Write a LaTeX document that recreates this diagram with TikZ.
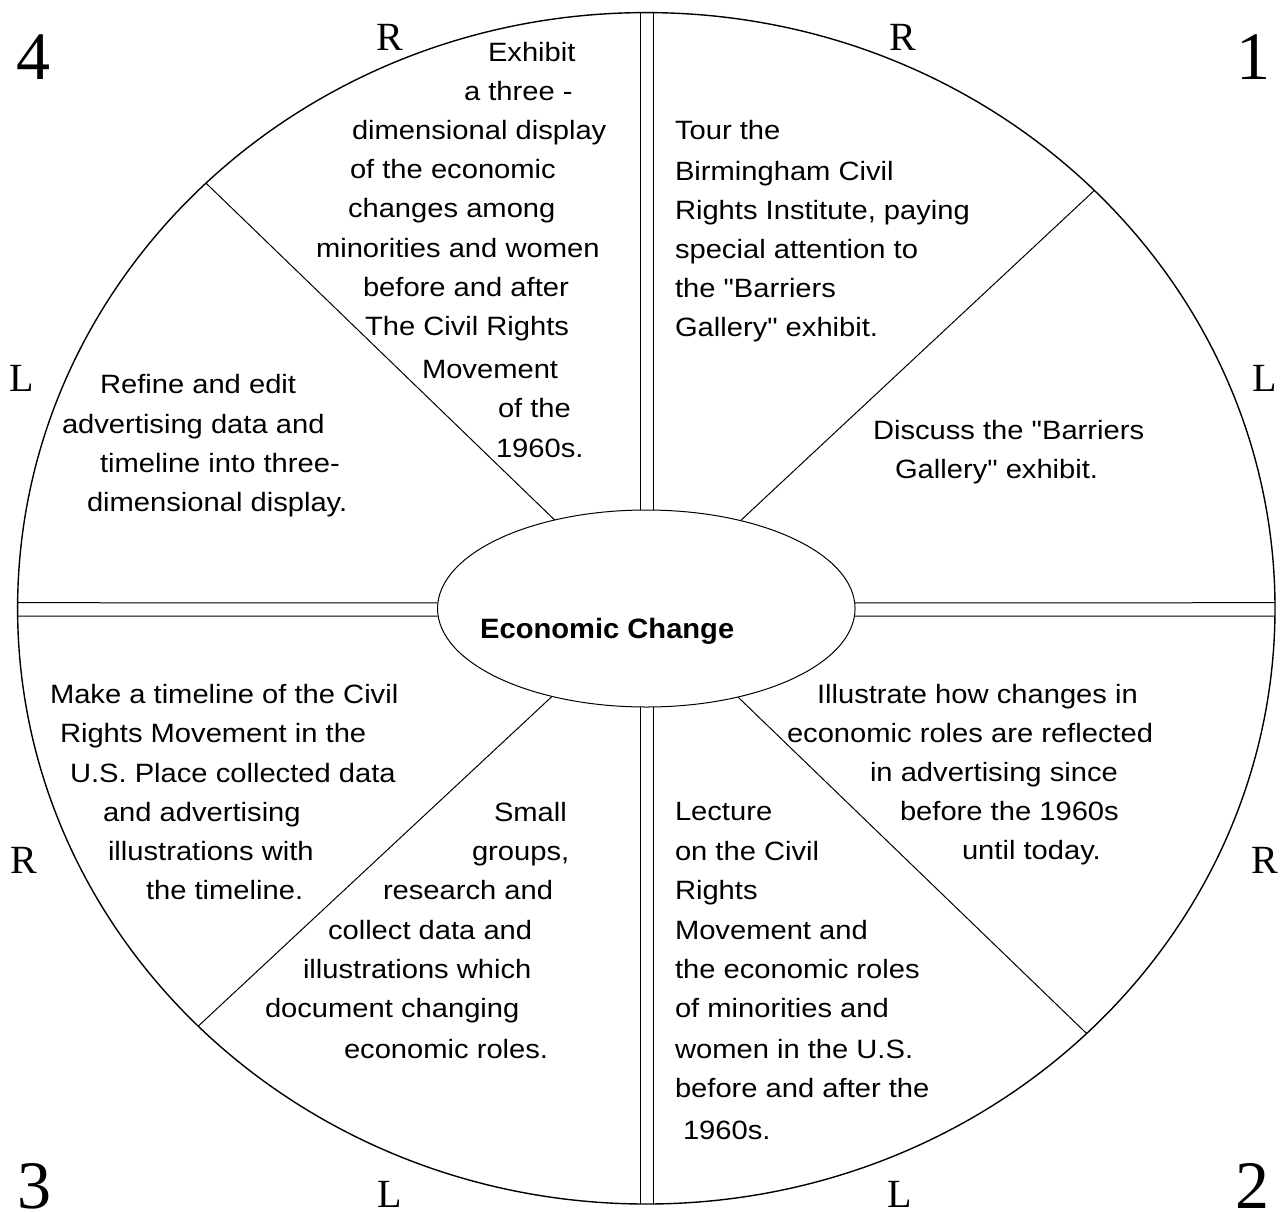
\documentclass[tikz,border=0pt]{standalone}
\usepackage{fontspec}
\setmainfont{Liberation Sans}[FakeStretch=1.1, Ligatures=TeXOff]
\newfontfamily\seriffont{Liberation Serif}
\newfontfamily\ecfont{Liberation Sans}[FakeStretch=1.04]
\usetikzlibrary{shapes.geometric}
\begin{document}
\begin{tikzpicture}[x=1pt,y=-1pt,
  txt/.style={anchor=base west, inner sep=0pt, outer sep=0pt, font=\fontsize{26.5}{39}\selectfont},
  lbl/.style={anchor=base, inner sep=0pt, outer sep=0pt, font=\seriffont\fontsize{40}{40}\selectfont},
  num/.style={anchor=base, inner sep=0pt, outer sep=0pt, font=\seriffont\fontsize{68}{68}\selectfont},
  ring/.style={draw=black, ellipse, inner sep=0pt, outer sep=0pt},
  divider/.style={draw=black, line width=1pt}]
\useasboundingbox (0,0) rectangle (1280,1211);
% rim and hub
\node[ring, line width=1.4pt, minimum width=1257.4pt, minimum height=1191.4pt] (rim) at (646.3,608.3) {};
\node[ring, line width=1pt, minimum width=417.5pt, minimum height=197pt] (ctr) at (646.3,608.5) {};
\node[inner sep=0pt, anchor=base west, font=\ecfont\bfseries\fontsize{28}{28}\selectfont] (ec) at (480,638) {Economic Change};
% double dividers
\draw[divider] ([xshift=-6.3pt]rim.north) -- ([xshift=-6.3pt]ctr.north);
\draw[divider] ([xshift=7pt]rim.north) -- ([xshift=7pt]ctr.north);
\draw[divider] ([xshift=-6.3pt]ctr.south) -- ([xshift=-6.3pt]rim.south);
\draw[divider] ([xshift=7pt]ctr.south) -- ([xshift=7pt]rim.south);
\draw[divider] ([yshift=5.6pt]rim.west) -- ([yshift=5.6pt]ctr.west);
\draw[divider] ([yshift=-7.7pt]rim.west) -- ([yshift=-7.7pt]ctr.west);
\draw[divider] ([yshift=5.6pt]ctr.east) -- ([yshift=5.6pt]rim.east);
\draw[divider] ([yshift=-7.7pt]ctr.east) -- ([yshift=-7.7pt]rim.east);
% diagonal dividers
\draw[divider] (rim.43.5) -- (ctr.43.5);
\draw[divider] (rim.136.5) -- (ctr.136.5);
\draw[divider] (rim.223.5) -- (ctr.223.5);
\draw[divider] (rim.316.5) -- (ctr.316.5);
% corner numbers
\node[num] (n4) at (33.5,79) {4};
\node[num] (n1) at (1253.5,79) {1};
\node[num] (n3) at (34,1208) {3};
\node[num] (n2) at (1252,1208) {2};
% R / L labels
\node[lbl] (rtl) at (390,50) {R};
\node[lbl] (rtr) at (903,50) {R};
\node[lbl] (lml) at (22,391) {L};
\node[lbl] (lmr) at (1265,391) {L};
\node[lbl] (rml) at (24,873) {R};
\node[lbl] (rmr) at (1265,873) {R};
\node[lbl] (lbl1) at (390,1207) {L};
\node[lbl] (lbr) at (900,1207) {L};
% top-left wedge
\node[txt] (a1) at (488,61) {Exhibit};
\node[txt] (a2) at (464,100) {a three -};
\node[txt] (a3) at (352,139) {dimensional display};
\node[txt] (a4) at (350,178) {of the economic};
\node[txt] (a5) at (348,217) {changes among};
\node[txt] (a6) at (316,257) {minorities and women};
\node[txt] (a7) at (363,296) {before and after};
\node[txt] (a8) at (365,335) {The Civil Rights};
\node[txt] (a9) at (422,378) {Movement};
\node[txt] (a10) at (498,417) {of the};
\node[txt] (a11) at (496,457) {1960s.};
% top-right wedge
\node[txt] (b1) at (675,139) {Tour the};
\node[txt] (b2) at (675,180) {Birmingham Civil};
\node[txt] (b3) at (675,219) {Rights Institute, paying};
\node[txt] (b4) at (675,258) {special attention to};
\node[txt] (b5) at (675,297) {the "Barriers};
\node[txt] (b6) at (675,336) {Gallery" exhibit.};
% right wedge
\node[txt] (c1) at (873,439) {Discuss the "Barriers};
\node[txt] (c2) at (895,478) {Gallery" exhibit.};
% right-lower wedge
\node[txt] (d1) at (817,703) {Illustrate how changes in};
\node[txt] (d2) at (787,742) {economic roles are reflected};
\node[txt] (d3) at (870,781) {in advertising since};
\node[txt] (d4) at (900,820) {before the 1960s};
\node[txt] (d5) at (962,859) {until today.};
% bottom-right wedge
\node[txt] (e1) at (675,820.5) {Lecture};
\node[txt] (e2) at (675,860) {on the Civil};
\node[txt] (e3) at (675,899.5) {Rights};
\node[txt] (e4) at (675,939) {Movement and};
\node[txt] (e5) at (675,978.5) {the economic roles};
\node[txt] (e6) at (675,1017.5) {of minorities and};
\node[txt] (e7) at (675,1058) {women in the U.S.};
\node[txt] (e8) at (675,1097.5) {before and after the};
\node[txt] (e9) at (683,1139) {1960s.};
% bottom-left wedge
\node[txt] (f1) at (50,703) {Make a timeline of the Civil};
\node[txt] (f2) at (60,742) {Rights Movement in the};
\node[txt] (f3) at (70,782) {U.S. Place collected data};
\node[txt] (f4) at (103,821) {and advertising};
\node[txt] (f5) at (108,860) {illustrations with};
\node[txt] (f6) at (146,899) {the timeline.};
% bottom-middle wedge
\node[txt] (g1) at (494,821) {Small};
\node[txt] (g2) at (472,860) {groups,};
\node[txt] (g3) at (383,899) {research and};
\node[txt] (g4) at (328,939) {collect data and};
\node[txt] (g5) at (303,978) {illustrations which};
\node[txt] (g6) at (265,1017) {document changing};
\node[txt] (g7) at (344,1058) {economic roles.};
% left wedge
\node[txt] (h1) at (100,393) {Refine and edit};
\node[txt] (h2) at (62,433) {advertising data and};
\node[txt] (h3) at (100,472) {timeline into three-};
\node[txt] (h4) at (87,511) {dimensional display.};
\end{tikzpicture}
\end{document}
